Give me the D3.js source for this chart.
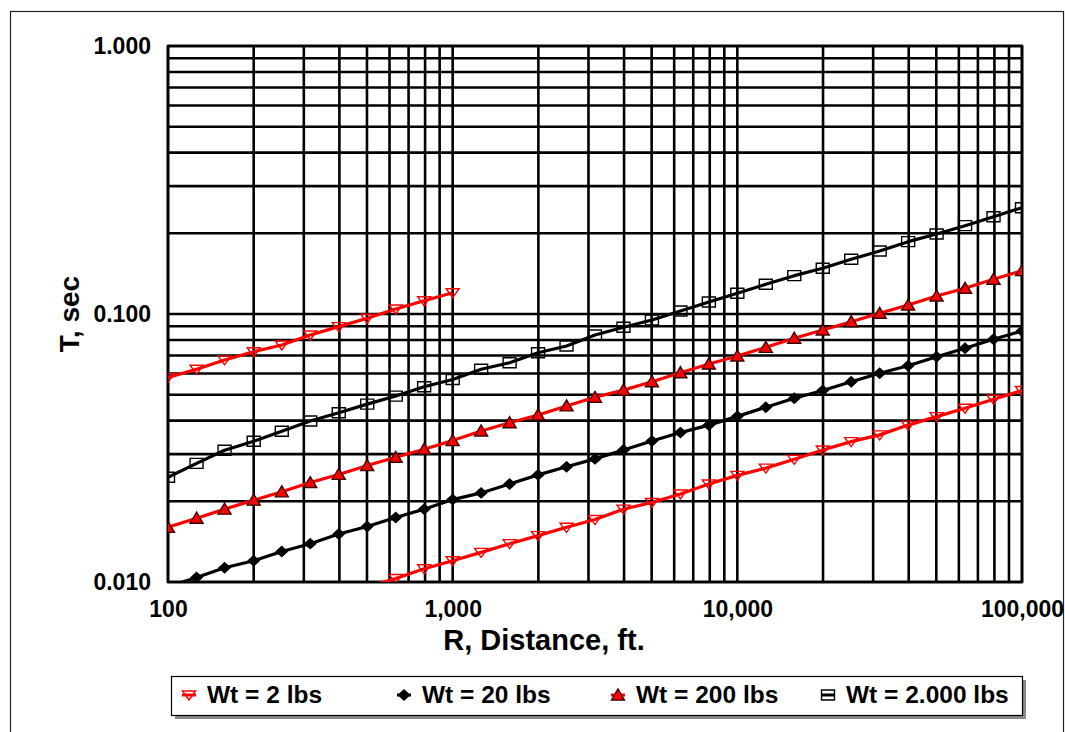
<!DOCTYPE html>
<html><head><meta charset="utf-8">
<script src="https://cdn.jsdelivr.net/npm/d3@7"></script>
<style>
html,body{margin:0;padding:0;background:#fff;}
svg{display:block;font-family:"Liberation Sans",Arial,sans-serif;}
</style></head>
<body>
<svg id="c" width="1065" height="732"></svg>
<script>
// ---- data ----
const distances = [100,126,158,200,251,316,398,501,631,794,1000,1259,1585,1995,2512,3162,3981,5012,6310,7943,10000,12589,15849,19953,25119,31623,39811,50119,63096,79433,100000];
const wt2Upper = [0.0580,0.0622,0.0674,0.0723,0.0766,0.0835,0.0897,0.0964,0.1044,0.1121,0.1201];
const wt2Lower = [0.0096,0.0103,0.0112,0.0120,0.0129,0.0139,0.0149,0.0160,0.0171,0.0187,0.0198,0.0213,0.0232,0.0250,0.0266,0.0287,0.0311,0.0334,0.0354,0.0385,0.0414,0.0445,0.0481,0.0518];
const wt20 = [0.0096,0.0104,0.0113,0.0120,0.0130,0.0139,0.0151,0.0161,0.0174,0.0187,0.0203,0.0215,0.0232,0.0251,0.0269,0.0288,0.0311,0.0336,0.0361,0.0385,0.0415,0.0449,0.0485,0.0518,0.0559,0.0601,0.0641,0.0693,0.0745,0.0805,0.0864];
const wt200 = [0.0160,0.0173,0.0187,0.0202,0.0217,0.0235,0.0252,0.0272,0.0292,0.0313,0.0337,0.0366,0.0393,0.0420,0.0454,0.0489,0.0520,0.0559,0.0604,0.0651,0.0697,0.0751,0.0812,0.0872,0.0936,0.1006,0.1080,0.1167,0.1247,0.1348,0.1451];
const wt2000 = [0.0246,0.0277,0.0310,0.0335,0.0365,0.0399,0.0428,0.0461,0.0494,0.0535,0.0570,0.0622,0.0658,0.0717,0.0760,0.0835,0.0892,0.0950,0.1026,0.1109,0.1195,0.1291,0.1390,0.1481,0.1600,0.1718,0.1862,0.1989,0.2136,0.2307,0.2493];
const seriesNames = ["Wt = 2 lbs","Wt = 20 lbs","Wt = 200 lbs","Wt = 2.000 lbs"];
const xTickValues = [100,1000,10000,100000];
const yTickValues = [0.01,0.1,1];
const xTitle = "R, Distance, ft.";
const yTitle = "T, sec";

// ---- layout ----
const svg = d3.select("#c");
const L = 168, R = 1022, T = 46, B = 582;
const x = d3.scaleLog().domain([100,100000]).range([L,R]);
const y = d3.scaleLog().domain([0.01,1]).range([B,T]);

// outer frame
svg.append("rect").attr("x",10.5).attr("y",11.5).attr("width",1053).attr("height",740)
  .attr("fill","none").attr("stroke","#222").attr("stroke-width",1.2);

// grid
const xGrid = [];
for (let d=100; d<100000; d*=10) for (let m=1;m<=9;m++) xGrid.push(d*m);
xGrid.push(100000);
const yGrid = [];
for (let d=0.01; d<0.99; d*=10) for (let m=1;m<=9;m++) yGrid.push(+(d*m).toPrecision(3));
yGrid.push(1);
const g = svg.append("g");
g.selectAll(".hg").data(yGrid).join("line")
  .attr("x1",L).attr("x2",R).attr("y1",d=>y(d)).attr("y2",d=>y(d))
  .attr("stroke","#000").attr("stroke-width",2.6);
g.selectAll(".vg").data(xGrid).join("line")
  .attr("y1",T).attr("y2",B).attr("x1",d=>x(d)).attr("x2",d=>x(d))
  .attr("stroke","#000").attr("stroke-width",2.6);
svg.append("rect").attr("x",L).attr("y",T).attr("width",R-L).attr("height",B-T)
  .attr("fill","none").attr("stroke","#000").attr("stroke-width",2.6);

// axes labels
const xAxis = d3.axisBottom(x).tickValues(xTickValues).tickFormat(d3.format(",")).tickSize(0).tickPadding(0);
const xa = svg.append("g").attr("transform",`translate(0,${B})`).call(xAxis);
xa.select(".domain").remove();
xa.selectAll("text").attr("font-size",23).attr("font-weight","bold").attr("fill","#000")
  .attr("font-family","Liberation Sans, Arial, sans-serif").attr("dy","1.5em");
const yAxis = d3.axisLeft(y).tickValues(yTickValues).tickFormat(d3.format(".3f")).tickSize(0).tickPadding(17);
const ya = svg.append("g").attr("transform",`translate(${L},0)`).call(yAxis);
ya.select(".domain").remove();
ya.selectAll("text").attr("font-size",23).attr("font-weight","bold").attr("fill","#000")
  .attr("font-family","Liberation Sans, Arial, sans-serif");

svg.append("text").attr("x",544).attr("y",650).attr("text-anchor","middle")
  .attr("font-size",29).attr("font-weight","bold").text(xTitle);
svg.append("text").attr("transform","translate(79,314) rotate(-90)").attr("text-anchor","middle")
  .attr("font-size",28).attr("font-weight","bold").text(yTitle);

// markers
const markers = {
  down: "M-6.5,-4L6.5,-4L0,5Z",
  diamond: "M0,-5L5.5,0L0,5L-5.5,0Z",
  up: "M0,-6L6.5,5L-6.5,5Z",
  square: "M-6.5,-5L6.5,-5L6.5,5L-6.5,5Z"
};
const styles = [
  {line:"#ff0000", m:"down", fill:"none", stroke:"#ff0000"},
  {line:"#000000", m:"diamond", fill:"#000", stroke:"#000"},
  {line:"#ff0000", m:"up", fill:"#ff0000", stroke:"#400000"},
  {line:"#000000", m:"square", fill:"none", stroke:"#000"}
];
svg.append("clipPath").attr("id","clip").append("rect")
  .attr("x",L).attr("y",T).attr("width",R-L).attr("height",B-T);
const plot = svg.append("g").attr("clip-path","url(#clip)");
const line = d3.line().x(d=>x(d[0])).y(d=>y(d[1]));

function drawSeries(pts, st){
  plot.append("path").datum(pts).attr("d",line).attr("fill","none")
    .attr("stroke",st.line).attr("stroke-width",3.2).attr("stroke-linejoin","round");
  plot.selectAll(null).data(pts.filter(p=>p[1]>=0.01)).join("path")
    .attr("transform",p=>`translate(${x(p[0])},${y(p[1])})`)
    .attr("d",markers[st.m]).attr("fill",st.fill).attr("stroke",st.stroke).attr("stroke-width",1.4);
}
drawSeries(wt2000.map((v,i)=>[distances[i],v]), styles[3]);
drawSeries(wt200.map((v,i)=>[distances[i],v]), styles[2]);
drawSeries(wt20.map((v,i)=>[distances[i],v]), styles[1]);
drawSeries(wt2Upper.map((v,i)=>[distances[i],v]), styles[0]);
drawSeries(wt2Lower.map((v,i)=>[distances[i+7],v]), styles[0]);

// legend
const lg = svg.append("g");
lg.append("rect").attr("x",175).attr("y",680).attr("width",851).attr("height",39).attr("fill","#8a8a8a");
lg.append("rect").attr("x",171.5).attr("y",676.5).attr("width",851).attr("height",39)
  .attr("fill","#fff").attr("stroke","#000").attr("stroke-width",1.2);
const legX = [189,404,618,828];
seriesNames.forEach((n,i)=>{
  const st = styles[i], cx = legX[i], cy = 695;
  lg.append("line").attr("x1",cx-7).attr("x2",cx+7).attr("y1",cy).attr("y2",cy)
    .attr("stroke",st.line).attr("stroke-width",3);
  lg.append("path").attr("transform",`translate(${cx},${cy})`).attr("d",markers[st.m])
    .attr("fill",st.fill).attr("stroke",st.stroke).attr("stroke-width",1.4);
  lg.append("text").attr("x",cx+18).attr("y",703).attr("font-size",24.5).attr("font-weight","bold").text(n);
});
</script>
</body></html>
